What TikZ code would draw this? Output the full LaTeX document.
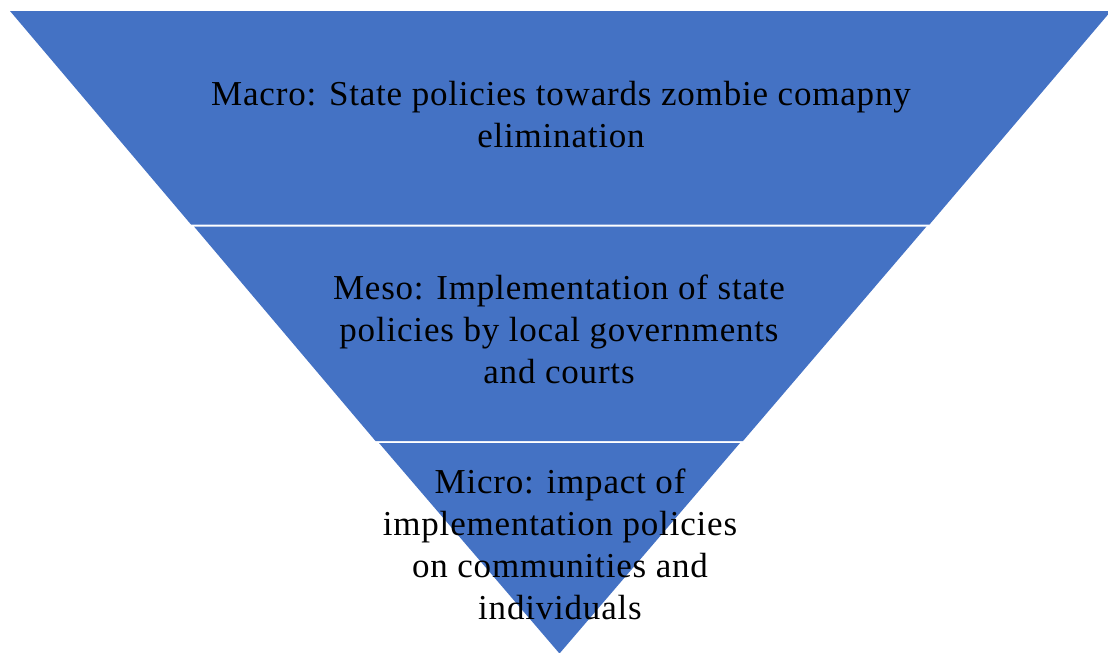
\documentclass[tikz,border=0pt]{standalone}
\usepackage{fontspec}
\setmainfont{Liberation Serif}[LetterSpace=2.3]
\definecolor{pyrblue}{HTML}{4472C4}
\begin{document}
\begin{tikzpicture}[x=0.75pt,y=-0.75pt,
  band/.style={fill=pyrblue},
  lbl/.style={align=center,font=\fontsize{26.25}{31.5}\selectfont,text=black,inner sep=0pt,anchor=base}]
\useasboundingbox (0,0) rectangle (1108,653);
\clip (0,0) rectangle (1108,653);
% macro band
\coordinate (a1) at (10,11);
\coordinate (a2) at (1111,11);
\coordinate (a3) at (929.5,224.5);
\coordinate (a4) at (191,224.5);
% meso band
\coordinate (b1) at (194,226.5);
\coordinate (b2) at (926.5,226.5);
\coordinate (b3) at (743,441);
\coordinate (b4) at (375.5,441);
% micro band
\coordinate (c1) at (379,443);
\coordinate (c2) at (740,443);
\coordinate (c3) at (559.5,653.5);
\fill[band] (a1) -- (a2) -- (a3) -- (a4) -- cycle;
\fill[band] (b1) -- (b2) -- (b3) -- (b4) -- cycle;
\fill[band] (c1) -- (c2) -- (c3) -- cycle;
\node[lbl] (macro) at (561,147) {Macro: State policies towards zombie comapny\\elimination};
\node[lbl] (meso) at (559,383) {Meso: Implementation of state\\policies by local governments\\and courts};
\node[lbl] (micro) at (560,619) {Micro: impact of\\implementation policies\\on communities and\\individuals};
\end{tikzpicture}
\end{document}
